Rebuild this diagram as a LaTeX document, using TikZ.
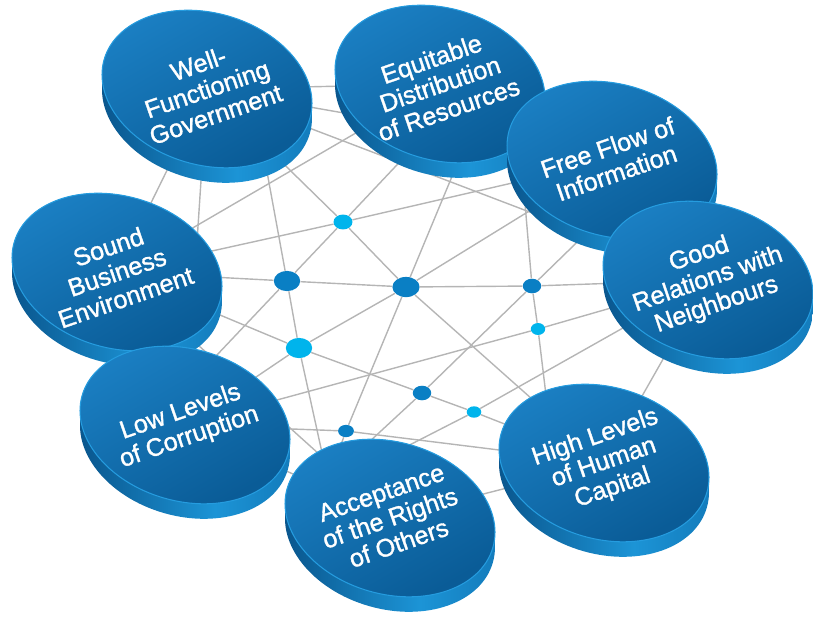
\documentclass[tikz,border=0pt]{standalone}
\usepackage{fontspec}
\setmainfont{Liberation Sans}
\newfontfamily\discfont[FakeBold=1.3]{Liberation Sans}
\usetikzlibrary{shapes.geometric}

\definecolor{meshgrey}{HTML}{B5B5B5}
\definecolor{dotdark}{HTML}{0A7FC4}
\definecolor{dotlight}{HTML}{00B4EC}
\definecolor{toplight}{HTML}{1B80C4}
\definecolor{topdark}{HTML}{0A5C97}
\definecolor{sidedark}{HTML}{09548B}
\definecolor{sidelight}{HTML}{1C94D6}
\definecolor{sidemid}{HTML}{0C67A6}
\definecolor{rimblue}{HTML}{259CDF}

\tikzset{
  discface/.style={x radius=107, y radius=76, rotate=-16},
  disctop/.style={top color=toplight, bottom color=topdark, shading angle=30,
                  draw=rimblue, line width=0.6pt},
  discside/.style={left color=sidedark, right color=sidemid, middle color=sidelight},
  disclabel/.style={text=white, align=center, rotate=19, inner sep=0pt,
                    font=\discfont\fontsize{14.3}{15.2}\selectfont},
}

\begin{document}
\begin{tikzpicture}[x=0.02cm, y=0.02cm]
\useasboundingbox (0,0) rectangle (813,-616);

% disc centres
\coordinate (gov) at (207,-89);
\coordinate (equ) at (440,-84);
\coordinate (info) at (612,-160);
\coordinate (nbr) at (708,-280);
\coordinate (biz) at (117,-272);
\coordinate (corr) at (185,-425);
\coordinate (rights) at (390,-518);
\coordinate (human) at (604,-463);

% points where lines run in under a disc
\coordinate (govs) at (263,-150);
\coordinate (equs) at (463,-150);
\coordinate (equsw) at (411,-150);
\coordinate (corrn) at (198,-375);
\coordinate (rightsnw) at (328,-480);
\coordinate (rightsn) at (390,-455);
\coordinate (infow) at (523,-180);
\coordinate (infosw) at (605,-215);
\coordinate (humannw) at (552,-445);

\begin{scope}[every node/.style={ellipse, inner sep=0pt}]
    \node (h1) at (343,-222) [fill=dotlight, minimum width=10.8pt, minimum height=8.5pt] {};
    \node (h2) at (287,-281) [fill=dotdark, minimum width=15pt, minimum height=11.5pt] {};
    \node (h3) at (406,-287) [fill=dotdark, minimum width=15.5pt, minimum height=11.5pt] {};
    \node (h4) at (532,-286) [fill=dotdark, minimum width=10.5pt, minimum height=8.3pt] {};
    \node (h5) at (299,-348) [fill=dotlight, minimum width=15pt, minimum height=11.5pt] {};
    \node (h6) at (538,-329) [fill=dotlight, minimum width=8.2pt, minimum height=6.8pt] {};
    \node (h7) at (422,-393) [fill=dotdark, minimum width=10.5pt, minimum height=8.3pt] {};
    \node (h8) at (474,-412) [fill=dotlight, minimum width=8.3pt, minimum height=6.5pt] {};
    \node (h9) at (346,-431) [fill=dotdark, minimum width=9pt, minimum height=7pt] {};
\end{scope}

\begin{scope}[every edge/.style={draw=meshgrey, line width=0.8pt}]
    % lines through the hubs
    \path (biz) edge (h2) (h2) edge (h3) (h3) edge (h4) (h4) edge (nbr);
    \path (gov) edge (h1) (h1) edge (h3) (h3) edge (human);
    \path (biz) edge (h1) (h1) edge (info);
    \path (equsw) edge (h1) (h1) edge (h2) (h2) edge (corrn);
    \path (govs) edge (h2) (h2) edge (h5) (h5) edge (rightsnw);
    \path (corr) edge (h5) (h5) edge (h3) (h3) edge (info);
    \path (equs) edge (h3) (h3) edge (h9) (h9) edge (rightsnw);
    \path (biz) edge (h5) (h5) edge (h7) (h7) edge (h8) (h8) edge (human);
    \path (rightsnw) edge (h7) (h7) edge (h4) (h4) edge (infosw);
    \path (infow) edge (h4) (h4) edge (h6) (h6) edge (humannw);
    \path (corr) edge (h6) (h6) edge (nbr);
    \path (corr) edge (h9) (h9) edge (human);
    \path (rightsn) edge (h8) (h8) edge (nbr);
    % disc to disc
    \path (gov) edge (equ) (gov) edge (info) (gov) edge (nbr) (gov) edge (biz) (gov) edge (corr);
    \path (equ) edge (info) (equ) edge (nbr) (equ) edge (biz);
    \path (info) edge (nbr) (nbr) edge (human);
    \path (biz) edge (corr) (biz) edge (rights) (corr) edge (rights) (rights) edge (human);
\end{scope}

% the eight discs, back to front
\foreach \dname/\dtext in {gov/{Well-\\Functioning\\Government},
                           equ/{Equitable\\Distribution\\of Resources},
                           info/{Free Flow of\\Information},
                           nbr/{Good\\Relations with\\Neighbours},
                           biz/{Sound\\Business\\Environment},
                           corr/{Low Levels\\of Corruption},
                           rights/{Acceptance\\of the Rights\\of Others},
                           human/{High Levels\\of Human\\Capital}}{
    \begin{scope}
        \clip \foreach \k in {0,...,15}{(\dname) ++(0,-\k) circle[discface]};
        \shade[discside] (\dname) ++(-110,-110) rectangle ++(280,200);
    \end{scope}
    \shadedraw[disctop] (\dname) circle[discface];
    \node (\dname-text) at (\dname) [disclabel] {\dtext};
}
\end{tikzpicture}
\end{document}
